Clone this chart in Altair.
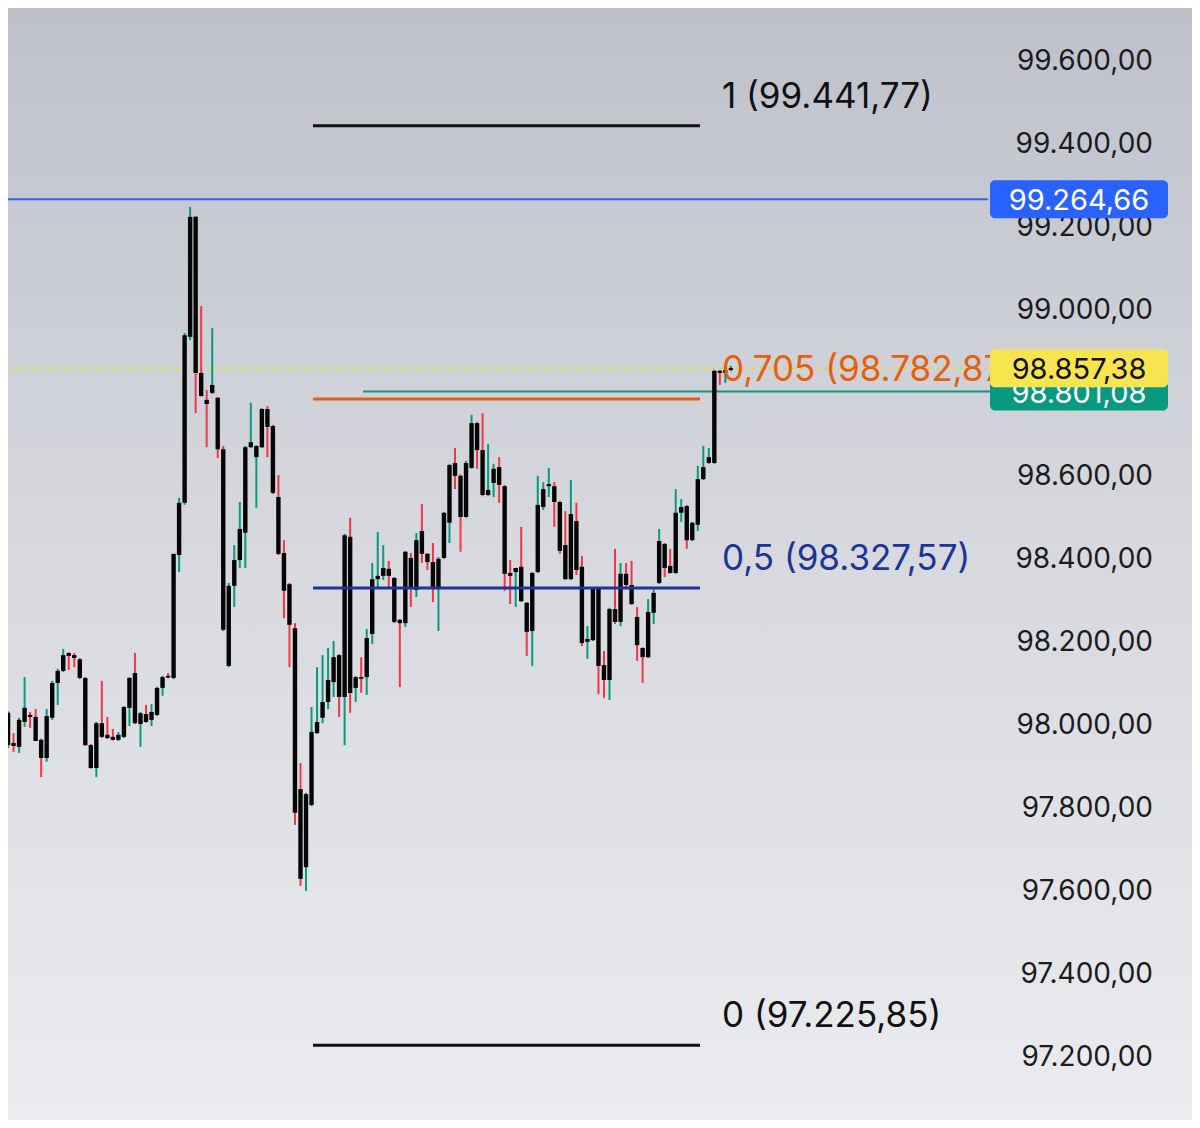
import altair as alt
import pandas as pd

# ---------------- data ----------------
opens = [
    98027, 97954, 97945, 98005, 98022, 98017, 97962, 97918, 98015, 98099,
    98128, 98171, 98166, 98156, 98111, 97949, 97894, 98002, 97974, 97969,
    97962, 97969, 98039, 98123, 98000, 98024, 98010, 98022, 98087, 98116,
    98111, 98407, 98533, 98933, 99222, 98846, 98781, 98798, 98786, 98662,
    98140, 98333, 98395, 98461, 98667, 98643, 98667, 98759, 98718, 98547,
    98412, 98337, 98231, 97843, 97655, 97805, 97978, 98015, 98053, 98101,
    98166, 98065, 98451, 98087, 98113, 98113, 98217, 98349, 98357, 98374,
    98352, 98251, 98243, 98400, 98323, 98465, 98410, 98390, 98325, 98400,
    98485, 98629, 98598, 98499, 98617, 98725, 98660, 98552, 98581, 98619,
    98573, 98364, 98366, 98379, 98292, 98224, 98366, 98523, 98573, 98573,
    98535, 98431, 98349, 98489, 98379, 98198, 98202, 98328, 98142, 98106,
    98277, 98246, 98362, 98335, 98258, 98183, 98161, 98268, 98340, 98434,
    98381, 98364, 98509, 98525, 98443, 98480, 98590, 98629, 98629, 98851,
    98846, 98853,
]
highs = [
    98031, 97978, 98015, 98113, 98029, 98036, 97965, 98036, 98104, 98133,
    98181, 98173, 98171, 98159, 98113, 97952, 98005, 98104, 98017, 97988,
    97981, 98043, 98113, 98171, 98029, 98046, 98048, 98090, 98116, 98123,
    98410, 98545, 98942, 99246, 99224, 99007, 98805, 98954, 98788, 98670,
    98340, 98431, 98535, 98670, 98774, 98672, 98761, 98766, 98721, 98600,
    98443, 98340, 98243, 97906, 97834, 98041, 98137, 98166, 98183, 98200,
    98169, 98458, 98497, 98116, 98161, 98229, 98388, 98463, 98431, 98393,
    98354, 98253, 98417, 98412, 98460, 98530, 98412, 98436, 98402, 98511,
    98627, 98665, 98602, 98634, 98745, 98728, 98749, 98675, 98627, 98643,
    98576, 98395, 98376, 98475, 98294, 98366, 98598, 98583, 98617, 98583,
    98538, 98513, 98588, 98533, 98405, 98236, 98330, 98330, 98176, 98280,
    98422, 98388, 98388, 98393, 98282, 98185, 98301, 98325, 98470, 98436,
    98422, 98566, 98542, 98528, 98487, 98622, 98670, 98665, 98853, 98853,
    98863, 98863,
]
lows = [
    97942, 97933, 97930, 97993, 97990, 97959, 97872, 97909, 98010, 98046,
    98125, 98130, 98137, 98108, 97947, 97892, 97872, 97966, 97964, 97960,
    97959, 97966, 97995, 98000, 97945, 98003, 97995, 98019, 98068, 98110,
    98108, 98366, 98528, 98925, 98749, 98790, 98667, 98795, 98641, 98224,
    98137, 98282, 98376, 98376, 98665, 98521, 98665, 98643, 98554, 98407,
    98255, 98137, 97757, 97610, 97598, 97802, 97976, 98002, 98036, 98065,
    98017, 97949, 98027, 98053, 98075, 98070, 98193, 98330, 98347, 98328,
    98243, 98089, 98234, 98282, 98306, 98388, 98371, 98294, 98224, 98398,
    98436, 98566, 98415, 98497, 98615, 98615, 98549, 98549, 98547, 98533,
    98321, 98289, 98282, 98294, 98164, 98140, 98364, 98516, 98547, 98475,
    98410, 98347, 98347, 98359, 98188, 98157, 98200, 98072, 98063, 98058,
    98241, 98236, 98330, 98287, 98152, 98099, 98159, 98241, 98337, 98354,
    98362, 98362, 98487, 98422, 98441, 98465, 98588, 98627, 98627, 98817,
    98822, 98850,
]
closes = [
    97949, 97947, 98010, 98039, 98017, 97959, 97918, 98019, 98099, 98128,
    98166, 98164, 98159, 98111, 97949, 97894, 98002, 97969, 97966, 97962,
    97974, 98041, 98111, 98002, 98026, 98005, 98029, 98087, 98113, 98112,
    98410, 98533, 98937, 99222, 98846, 98790, 98771, 98817, 98662, 98227,
    98333, 98395, 98470, 98667, 98679, 98670, 98759, 98716, 98557, 98410,
    98321, 98239, 97786, 97627, 97831, 97981, 98005, 98053, 98106, 98161,
    98065, 98455, 98075, 98113, 98109, 98207, 98349, 98357, 98376, 98357,
    98246, 98243, 98415, 98328, 98443, 98410, 98390, 98330, 98398, 98509,
    98624, 98598, 98499, 98629, 98725, 98660, 98552, 98564, 98615, 98576,
    98362, 98357, 98376, 98296, 98222, 98364, 98528, 98566, 98578, 98535,
    98417, 98349, 98506, 98371, 98195, 98205, 98328, 98140, 98106, 98277,
    98246, 98362, 98335, 98289, 98190, 98161, 98270, 98316, 98441, 98376,
    98364, 98509, 98523, 98443, 98485, 98590, 98619, 98643, 98851, 98846,
    98853, 98857.38,
]

axis_ticks = [97200, 97400, 97600, 97800, 98000, 98200, 98400, 98600, 98800, 99000, 99200, 99400, 99600]
axis_labels = ["97.200,00", "97.400,00", "97.600,00", "97.800,00", "98.000,00", "98.200,00",
               "98.400,00", "98.600,00", "98.800,00", "99.000,00", "99.200,00", "99.400,00",
               "99.600,00"]

fib_labels = ["1 (99.441,77)", "0,705 (98.782,87)", "0,5 (98.327,57)", "0 (97.225,85)"]
fib_prices = [99441.77, 98782.87, 98327.57, 97225.85]
fib_colors = ["#111111", "#e4600f", "#1c3596", "#111111"]

high_line_price = 99264.66
high_line_text = "99.264,66"
last_price = 98857.38
last_text = "98.857,38"
level_price = 98801.08
level_text = "98.801,08"

# ---------------- chart ----------------
FONT = "Inter"
W, H = 1184, 1112
GREEN, RED, BLUE, YELLOW = "#089981", "#f23645", "#2962ff", "#f7e54f"

df = pd.DataFrame({"i": list(range(len(opens))), "open": opens, "high": highs,
                   "low": lows, "close": closes})

xs = alt.Scale(domain=[0.898, 213.66], nice=False, zero=False)
ys = alt.Scale(domain=[97045.8, 99725.3], nice=False, zero=False)


def Y(field):
    return alt.Y(field, type="quantitative", scale=ys, axis=None, title=None)


one = pd.DataFrame({"a": [0]})

bg = alt.Chart(one).mark_rect(
    color=alt.Gradient(
        gradient="linear", x1=0, x2=0, y1=0, y2=1,
        stops=[alt.GradientStop(color="#bec1ca", offset=0),
               alt.GradientStop(color="#d5d7dd", offset=0.45),
               alt.GradientStop(color="#ebecef", offset=1)],
    )
).encode(x=alt.value(0), x2=alt.value(W), y=alt.value(0), y2=alt.value(H))

tick_df = pd.DataFrame({"price": axis_ticks, "t": axis_labels})
ticks = alt.Chart(tick_df).mark_text(align="right", baseline="middle", fontSize=28, font=FONT,
                                     color="#1c1c1e", dy=2).encode(
    x=alt.value(1145), y=Y("price"), text="t:N")

wicks = alt.Chart(df).mark_rule(strokeWidth=2, clip=True).encode(
    x=alt.X("i:Q", scale=xs, axis=None),
    y=Y("low"), y2="high:Q",
    color=alt.condition("datum.close >= datum.open", alt.value(GREEN), alt.value(RED)),
)
bodies = alt.Chart(df).mark_bar(size=4.4, color="#050505", clip=True).encode(
    x=alt.X("i:Q", scale=xs, axis=None),
    y=Y("open"), y2="close:Q",
)

fib_df = pd.DataFrame({"label": fib_labels, "price": fib_prices})
fib_color = alt.Color("label:N", scale=alt.Scale(domain=fib_labels, range=fib_colors), legend=None)
fib_lines = alt.Chart(fib_df).mark_rule(strokeWidth=3).encode(
    x=alt.value(305), x2=alt.value(692), y=Y("price"), color=fib_color)
fib_text = alt.Chart(fib_df).mark_text(align="left", baseline="middle", dy=-29, fontSize=35,
                                       font=FONT).encode(
    x=alt.value(714), y=Y("price"), text="label:N", color=fib_color)

blue_df = pd.DataFrame({"price": [high_line_price], "t": [high_line_text]})
last_df = pd.DataFrame({"price": [last_price], "t": [last_text]})
lvl_df = pd.DataFrame({"price": [level_price], "t": [level_text]})

blue_line = alt.Chart(blue_df).mark_rule(strokeWidth=2, color=BLUE).encode(
    x=alt.value(0), x2=alt.value(980), y=Y("price"))
last_line = alt.Chart(last_df).mark_rule(strokeWidth=2, color="#ecd52a", strokeDash=[3, 5]).encode(
    x=alt.value(0), x2=alt.value(982), y=Y("price"))
lvl_line = alt.Chart(lvl_df).mark_rule(strokeWidth=2, color=GREEN).encode(
    x=alt.value(355), x2=alt.value(982), y=Y("price"))


def box(d, fill, textcolor):
    r = alt.Chart(d).mark_rect(cornerRadius=5, yOffset=-19, y2Offset=19, color=fill).encode(
        x=alt.value(982), x2=alt.value(1160), y=Y("price"), y2="price:Q")
    t = alt.Chart(d).mark_text(align="center", baseline="middle", fontSize=29, font=FONT,
                               color=textcolor, dy=2).encode(
        x=alt.value(1071), y=Y("price"), text="t:N")
    return r + t


chart = alt.layer(
    bg, ticks, blue_line, last_line, lvl_line, wicks, bodies, fib_lines, fib_text,
    box(blue_df, BLUE, "#ffffff"), box(lvl_df, GREEN, "#ffffff"), box(last_df, YELLOW, "#111111"),
).properties(
    width=W, height=H, padding=0, autosize=alt.AutoSizeParams(type="none"),
    background="#d5d7dd",
).configure_view(strokeWidth=0)

chart.save("out.html", embed_options={"renderer": "svg", "actions": False})
